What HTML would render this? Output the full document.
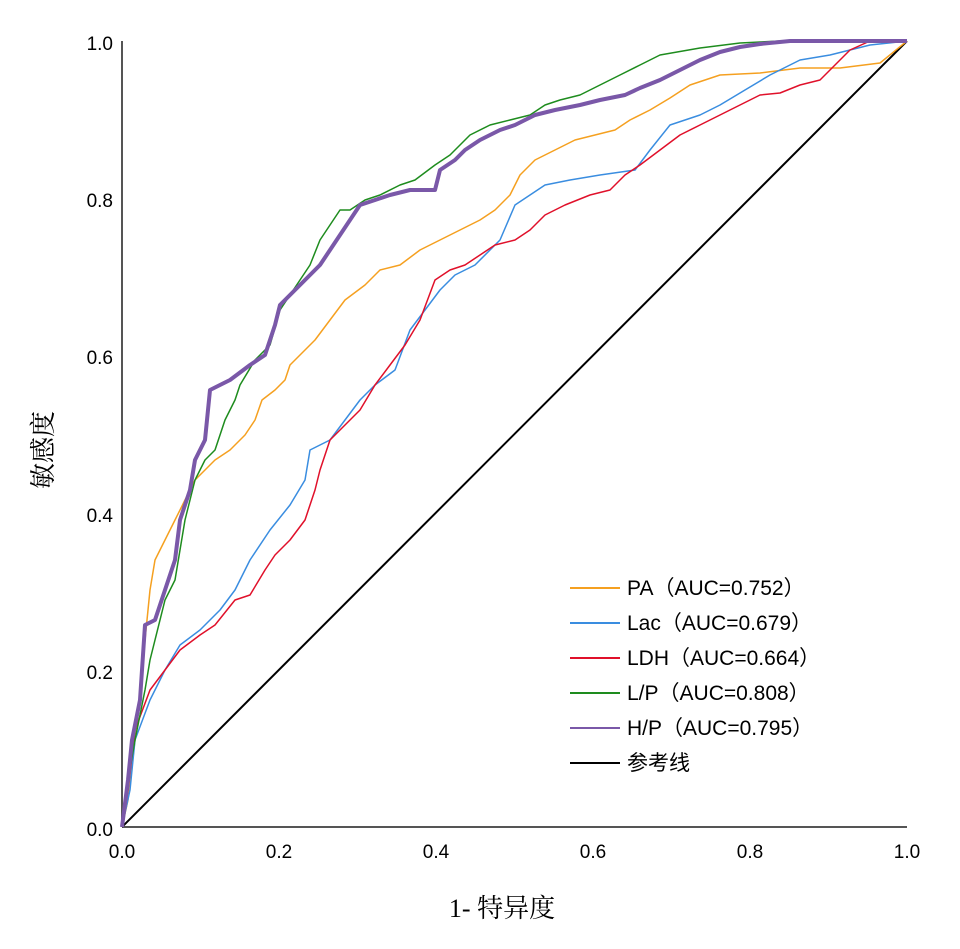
<!DOCTYPE html>
<html><head><meta charset="utf-8"><style>
body{margin:0;background:#fff}
svg text{font-family:"Liberation Sans","Noto Sans CJK SC",sans-serif}
</style></head><body>
<svg width="960" height="944" viewBox="0 0 960 944" xmlns="http://www.w3.org/2000/svg">
<rect width="960" height="944" fill="#fff"/>
<g stroke="#555" stroke-width="2" fill="none">
<line x1="122" y1="41" x2="122" y2="827"/>
<line x1="122" y1="827" x2="907" y2="827"/>
</g>
<g font-size="19" fill="#000" text-anchor="end" style="font-family:'DejaVu Sans',sans-serif;font-weight:500">
<text x="113" y="50">1.0</text><text x="113" y="207">0.8</text><text x="113" y="364">0.6</text>
<text x="113" y="522">0.4</text><text x="113" y="679">0.2</text><text x="113" y="836">0.0</text>
</g>
<g font-size="19" fill="#000" text-anchor="middle" style="font-family:'DejaVu Sans',sans-serif;font-weight:500">
<text x="122" y="858">0.0</text><text x="279" y="858">0.2</text><text x="436" y="858">0.4</text>
<text x="593" y="858">0.6</text><text x="750" y="858">0.8</text><text x="907" y="858">1.0</text>
</g>
<text x="502" y="917" font-size="26" text-anchor="middle" style="font-family:'Liberation Serif','Noto Serif CJK SC',serif">1- 特异度</text>
<text transform="translate(52,450) rotate(-90)" font-size="26" text-anchor="middle" style="font-family:'Liberation Serif','Noto Serif CJK SC',serif">敏感度</text>
<line x1="122" y1="827" x2="907" y2="41" stroke="#000" stroke-width="2"/>
<g fill="none" stroke-width="1.5" stroke-linejoin="round">
<polyline stroke="#f5a020" points="122,827 128,800 135,740 140,700 145,640 150,590 155,560 165,540 175,520 185,500 195,480 205,470 215,460 230,450 245,435 255,420 262,400 275,390 285,380 290,365 300,355 315,340 330,320 345,300 365,285 380,270 400,265 420,250 440,240 460,230 480,220 495,210 510,195 520,175 535,160 555,150 575,140 595,135 615,130 630,120 650,110 670,98 690,85 720,75 760,73 800,68 840,68 880,63 907,41"/>
<polyline stroke="#3a8de0" points="122,827 130,790 135,740 150,700 165,670 180,645 200,630 220,610 235,590 250,560 270,530 290,505 305,480 310,450 330,440 345,420 360,400 375,385 395,370 410,330 425,310 440,290 455,275 475,265 490,250 500,240 515,205 530,195 545,185 570,180 600,175 635,170 650,150 670,125 700,115 720,105 745,90 770,75 800,60 830,55 870,45 907,41"/>
<polyline stroke="#e0102a" points="122,827 128,790 135,730 150,690 165,670 180,650 200,635 215,625 235,600 250,595 265,570 275,555 290,540 305,520 315,490 320,470 330,440 345,425 360,410 375,385 390,365 405,345 420,320 435,280 450,270 465,265 480,255 495,245 515,240 530,230 545,215 565,205 590,195 610,190 625,175 640,165 660,150 680,135 700,125 720,115 740,105 760,95 780,93 800,85 820,80 835,65 850,50 870,41 907,41"/>
<polyline stroke="#1e8c1e" points="122,827 128,780 135,740 145,690 150,660 155,640 165,600 175,580 185,520 195,480 205,460 215,450 225,420 235,400 240,385 255,360 270,345 280,310 290,295 300,280 310,265 320,240 330,225 340,210 350,210 365,200 380,195 400,185 415,180 435,165 450,155 470,135 490,125 510,120 530,115 545,105 560,100 580,95 600,85 620,75 640,65 660,55 700,48 740,43 780,41 907,41"/>
<polyline stroke="#7a58a8" stroke-width="4" points="122,827 128,780 132,740 140,700 145,625 155,620 165,590 175,560 180,520 190,490 195,460 205,440 210,390 230,380 250,365 265,355 275,325 280,305 295,290 305,280 320,265 330,250 340,235 350,220 360,205 375,200 390,195 410,190 435,190 440,170 455,160 465,150 480,140 500,130 515,125 535,115 555,110 580,105 600,100 625,95 640,88 660,80 680,70 700,60 720,52 740,47 760,44 790,41 907,41"/>
</g>
<g stroke-width="2">
<line x1="570" y1="588" x2="620" y2="588" stroke="#f5a020"/>
<line x1="570" y1="623" x2="620" y2="623" stroke="#3a8de0"/>
<line x1="570" y1="658" x2="620" y2="658" stroke="#e0102a"/>
<line x1="570" y1="693" x2="620" y2="693" stroke="#1e8c1e"/>
<line x1="570" y1="728" x2="620" y2="728" stroke="#7a58a8"/>
<line x1="570" y1="763" x2="620" y2="763" stroke="#000"/>
</g>
<g font-size="21" fill="#000">
<text x="627" y="595">PA（AUC=0.752）</text>
<text x="627" y="630">Lac（AUC=0.679）</text>
<text x="627" y="665">LDH（AUC=0.664）</text>
<text x="627" y="700">L/P（AUC=0.808）</text>
<text x="627" y="735">H/P（AUC=0.795）</text>
<text x="627" y="770">参考线</text>
</g>
</svg>
</body></html>
